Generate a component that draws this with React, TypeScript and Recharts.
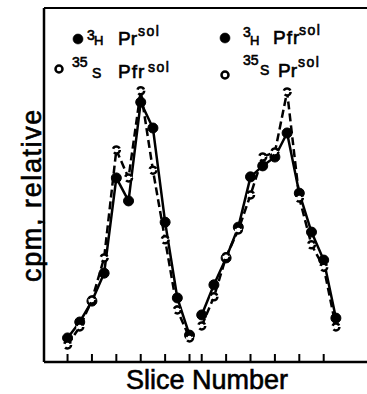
import React from 'react';
import { LineChart, Line, XAxis, YAxis, ReferenceLine } from 'recharts';

// slice positions: left gel 1..11, right gel 12..23
const leftSlices = [1, 2, 3, 4, 5, 6, 7, 8, 9, 10, 11];
const rightSlices = [12, 13, 14, 15, 16, 17, 18, 19, 20, 21, 22, 23];

// left gel: 3H Pr(sol) filled, 35S Pfr(sol) open
const leftTritium = [6.8, 11.3, 17.2, 25.1, 52.0, 45.5, 73.4, 66.1, 39.5, 18.1, 7.6];
const leftSulfur = [4.8, 9.9, 17.5, 29.4, 59.9, 52.0, 76.6, 54.2, 34.5, 14.7, 6.8];

// right gel: 3H Pfr(sol) filled, 35S Pr(sol) open
const rightTritium = [13.3, 21.8, 29.4, 38.1, 52.3, 55.4, 57.9, 64.7, 47.7, 36.7, 28.8, 12.4];
const rightSulfur = [10.2, 18.4, 29.7, 37.3, 47.2, 57.9, 59.3, 76.3, 46.3, 33.1, 26.8, 9.9];

const tickSlices = [1, 3, 5, 7, 9, 11, 12, 14, 16, 18, 20, 22];

const data = [...leftSlices, ...rightSlices].map(s => {
  const li = leftSlices.indexOf(s);
  const ri = rightSlices.indexOf(s);
  return {
    slice: s,
    leftH: li >= 0 ? leftTritium[li] : null,
    leftS: li >= 0 ? leftSulfur[li] : null,
    rightH: ri >= 0 ? rightTritium[ri] : null,
    rightS: ri >= 0 ? rightSulfur[ri] : null,
  };
});

const FONT = '"Liberation Sans", Arial, Helvetica, sans-serif';

const filledDot = { r: 5, fill: '#000', stroke: '#000', strokeWidth: 1 };
const openDot = { r: 3.5, fill: '#fff', stroke: '#000', strokeWidth: 2.5 };

const Legend = () => (
  <svg width={367} height={394} style={{ position: 'absolute', left: 0, top: 0, pointerEvents: 'none' }}>
    <g fontFamily={FONT} fill="#000" stroke="#000" strokeWidth={0.6}>
      {/* left gel */}
      <circle cx={78} cy={39} r={5} fill="#000" />
      <text x={87} y={40} fontSize={14}>3</text>
      <text x={94} y={45} fontSize={13}>H</text>
      <text x={118} y={45} fontSize={19}>Pr</text>
      <text x={138} y={36} fontSize={14} letterSpacing={1.5}>sol</text>

      <circle cx={59} cy={69} r={3.5} fill="#fff" stroke="#000" strokeWidth={2.5} />
      <text x={72} y={67} fontSize={14}>35</text>
      <text x={92} y={78} fontSize={14}>S</text>
      <text x={118} y={78} fontSize={19} letterSpacing={1}>Pfr</text>
      <text x={148} y={72} fontSize={14} letterSpacing={1.5}>sol</text>

      {/* right gel */}
      <circle cx={225} cy={38} r={5} fill="#000" />
      <text x={243} y={37} fontSize={14}>3</text>
      <text x={250} y={45} fontSize={13}>H</text>
      <text x={273} y={44} fontSize={19} letterSpacing={1}>Pfr</text>
      <text x={299} y={35} fontSize={14} letterSpacing={1.5}>sol</text>

      <circle cx={225} cy={75} r={3.5} fill="#fff" stroke="#000" strokeWidth={2.5} />
      <text x={243} y={65} fontSize={14}>35</text>
      <text x={260} y={75} fontSize={14}>S</text>
      <text x={278} y={77} fontSize={19}>Pr</text>
      <text x={298} y={67} fontSize={14} letterSpacing={1.5}>sol</text>

      {/* axis titles */}
      <text x={207} y={389} fontSize={27} textAnchor="middle">Slice Number</text>
      <text transform="translate(41,195) rotate(-90)" fontSize={27} letterSpacing={1.6} textAnchor="middle">
        cpm, relative
      </text>
    </g>
  </svg>
);

const App: React.FC = () => {
  return (
    <div style={{ position: 'absolute', left: 0, top: 0, width: 367, height: 394, background: '#fff' }}>
      <LineChart width={367} height={394} data={data} margin={{ top: 8, right: 0, bottom: 0, left: 0 }}>
        <XAxis
          dataKey="slice"
          type="number"
          domain={[-0.93, 25.55]}
          ticks={tickSlices}
          height={32}
          tickFormatter={() => ''}
          tickSize={-8}
          axisLine={{ stroke: '#000', strokeWidth: 2.5 }}
          tickLine={{ stroke: '#000', strokeWidth: 2 }}
        />
        <YAxis
          type="number"
          domain={[0, 100]}
          width={44}
          tick={false}
          tickLine={false}
          axisLine={{ stroke: '#000', strokeWidth: 2.5 }}
        />
        <ReferenceLine y={100} stroke="#000" strokeWidth={2} />
        <Line dataKey="leftH" stroke="#000" strokeWidth={2.5} dot={filledDot} isAnimationActive={false} />
        <Line dataKey="rightH" stroke="#000" strokeWidth={2.5} dot={filledDot} isAnimationActive={false} />
        <Line dataKey="leftS" stroke="#000" strokeWidth={2.5} strokeDasharray="8 4" dot={openDot} isAnimationActive={false} />
        <Line dataKey="rightS" stroke="#000" strokeWidth={2.5} strokeDasharray="8 4" dot={openDot} isAnimationActive={false} />
      </LineChart>
      <Legend />
    </div>
  );
};

export default App;
